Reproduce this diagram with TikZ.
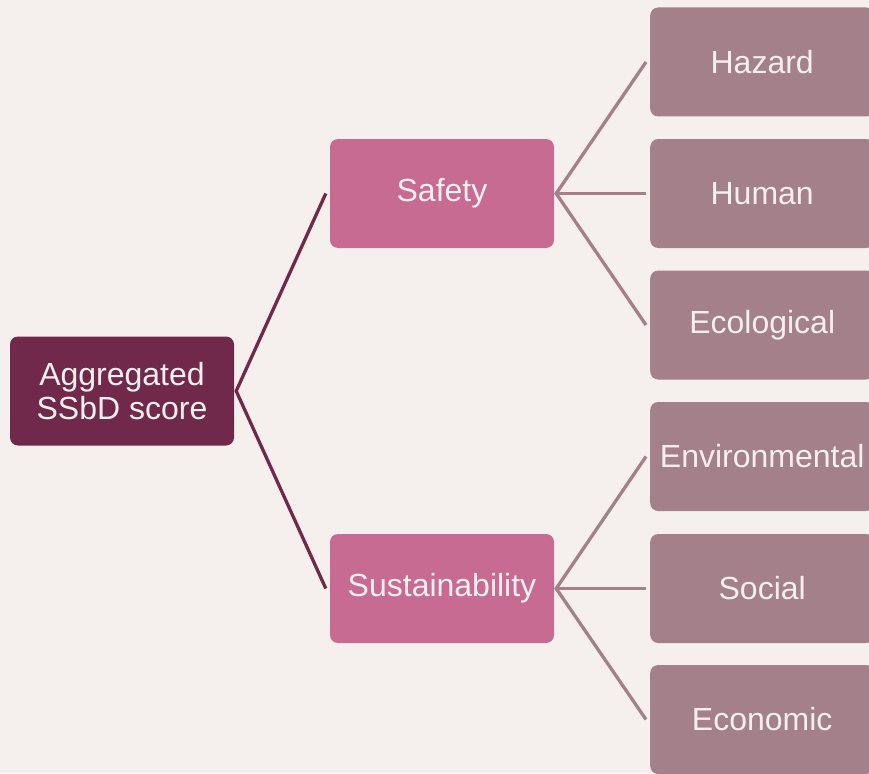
\documentclass[tikz,border=0pt]{standalone}
\usepackage{fontspec}
\setmainfont{Liberation Sans}
\definecolor{bg}{HTML}{F5EFED}
\definecolor{rootc}{HTML}{70294A}
\definecolor{midc}{HTML}{C76B93}
\definecolor{leafc}{HTML}{A3808A}
\definecolor{txt}{HTML}{F5EFED}
\begin{document}
\begin{tikzpicture}[x=1pt,y=-1pt,
  box/.style={rounded corners=8pt, minimum width=224pt, minimum height=109pt, inner sep=0pt,
    text=txt, font=\fontsize{32pt}{34pt}\selectfont, align=center},
  rootbox/.style={box, fill=rootc},
  midbox/.style={box, fill=midc},
  leafbox/.style={box, fill=leafc},
  rootline/.style={draw=rootc, line width=3.3pt},
  leafline/.style={draw=leafc, line width=3.3pt}]
\useasboundingbox (0,0) rectangle (869,773);
\fill[bg] (0,0) rectangle (869,773);
\clip (0,0) rectangle (869,773);
\node[rootbox] (root) at (122,391) {Aggregated\\SSbD score};
\node[midbox] (safe) at (442,193.5) {Safety};
\node[midbox] (sust) at (442,588.5) {Sustainability};
\node[leafbox, anchor=west] (haz) at (650,62) {Hazard};
\node[leafbox, anchor=west] (hum) at (650,193.5) {Human};
\node[leafbox, anchor=west] (eco) at (650,325) {Ecological};
\node[leafbox, anchor=west] (env) at (650,456.5) {Environmental};
\node[leafbox, anchor=west] (soc) at (650,588.5) {Social};
\node[leafbox, anchor=west] (ecn) at (650,719.5) {Economic};
\coordinate (rs) at ([xshift=2pt]root.east);
\draw[rootline] ([xshift=-4pt]safe.west) -- (rs) -- ([xshift=-4pt]sust.west);
\coordinate (ss) at ([xshift=2pt]safe.east);
\coordinate (us) at ([xshift=2pt]sust.east);
\draw[leafline] ([xshift=-4pt]haz.west) -- (ss) -- ([xshift=-4pt]eco.west);
\draw[leafline] (ss) -- ([xshift=-4pt]hum.west);
\draw[leafline] ([xshift=-4pt]env.west) -- (us) -- ([xshift=-4pt]ecn.west);
\draw[leafline] (us) -- ([xshift=-4pt]soc.west);
\end{tikzpicture}
\end{document}
